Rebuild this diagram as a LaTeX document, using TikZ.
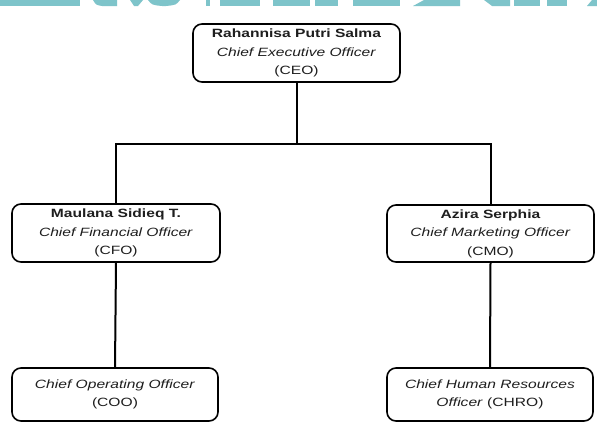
\documentclass[tikz,border=0pt]{standalone}
\usepackage{fontspec}
\setmainfont[FakeStretch=1.3]{Liberation Sans}
\definecolor{band}{HTML}{7EC4CA}
\definecolor{txt}{HTML}{1E1E1E}
\begin{document}
\begin{tikzpicture}[x=1pt,y=-1pt,
  role/.style={draw=black, line width=1.6pt, rounded corners=9pt, fill=white,
    align=center, text=txt, inner sep=0pt,
    font=\fontsize{12}{18.5}\selectfont},
  link/.style={draw=black, line width=2pt}]
\useasboundingbox[fill=white] (0,0) rectangle (597,423);
% teal band (cropped watermark letters)
\fill[band] (0,0) rectangle (80,6);
\fill[band] (93,0) -- (117,0) -- (117,6) -- (102,6) .. controls (96,5) .. (93,0) -- cycle;
\fill[band] (130,0) -- (143,0) -- (138,6) -- (134,6) -- cycle;
\fill[band] (148,0) -- (180,0) .. controls (176,5) .. (166,6) -- (162,6) .. controls (152,5) .. (148,0) -- cycle;
\fill[band] (206,0) rectangle (210,6);
\fill[band] (220,0) rectangle (260,6);
\fill[band] (273,0) rectangle (310,6);
\fill[band] (315,0) rectangle (338,6);
\fill[band] (353,0) rectangle (400,6);
\fill[band] (424,0) -- (460,0) -- (460,6) -- (413,6) -- cycle;
\fill[band] (484,0) -- (510,0) -- (510,6) -- (492,6) -- cycle;
\fill[band] (514,0) rectangle (540,6);
\fill[band] (547,0) rectangle (567,6);
\fill[band] (592,0) -- (597,0) -- (597,6) -- (587,6) -- cycle;
% nodes
\node[role, minimum width=207pt, minimum height=58pt] (ceo) at (296.5,53)
  {\textbf{Rahannisa Putri Salma}\\\textit{Chief Executive Officer}\\(CEO)};
\node[role, minimum width=208pt, minimum height=58pt] (cfo) at (116,233)
  {\textbf{Maulana Sidieq T.}\\\textit{Chief Financial Officer}\\(CFO)};
\node[role, minimum width=207pt, minimum height=57pt] (cmo) at (490.5,233.5)
  {\textbf{Azira Serphia}\\\textit{Chief Marketing Officer}\\(CMO)};
\node[role, minimum width=206pt, minimum height=53pt] (coo) at (115,394.5)
  {\textit{Chief Operating Officer}\\(COO)};
\node[role, minimum width=206pt, minimum height=53pt] (chro) at (490,394.5)
  {\textit{Chief Human Resources}\\\textit{Officer} (CHRO)};
% connectors
\coordinate (j) at (296.5,144);
\draw[link] (ceo.south) -- (j);
\draw[link] (cfo.north) |- (j) -| (cmo.north);
\draw[link] (cfo.south) -- (coo.north);
\draw[link] (cmo.south) -- (chro.north);
\end{tikzpicture}
\end{document}
